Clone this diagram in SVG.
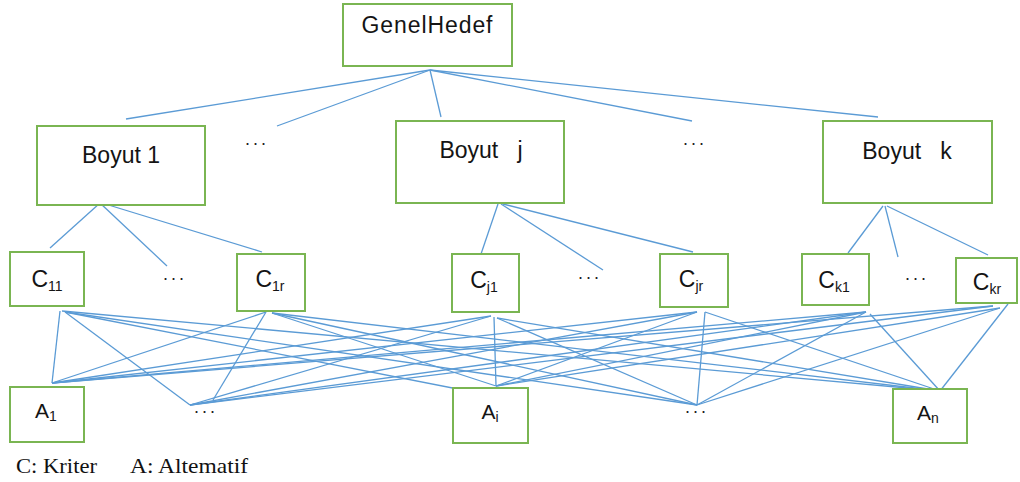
<svg xmlns="http://www.w3.org/2000/svg" width="1020" height="482" viewBox="0 0 1020 482">
<style>
.box{fill:#ffffff;stroke:#7ab552;stroke-width:2}
.lbl{font-family:"Liberation Sans",Arial,sans-serif;fill:#141414}
.big{font-size:23px}
.cl{font-size:23px}
.sub{font-size:14px}
.dots{font-family:"Liberation Sans",Arial,sans-serif;font-size:18px;fill:#1e1e1e;letter-spacing:3px}
.leg{font-family:"Liberation Serif","Times New Roman",serif;font-size:22px;fill:#111}
#connectors line{stroke:#5b9bd5;stroke-width:1.3;fill:none}
</style>
<rect width="1020" height="482" fill="#ffffff"/>
<g id="connectors">
<line x1="430" y1="70" x2="126" y2="119"/>
<line x1="430" y1="70" x2="277" y2="126"/>
<line x1="430" y1="70" x2="441" y2="117"/>
<line x1="430" y1="70" x2="692" y2="121"/>
<line x1="430" y1="70" x2="878" y2="117"/>
<line x1="100" y1="203" x2="50" y2="248"/>
<line x1="100" y1="203" x2="167" y2="266"/>
<line x1="102" y1="203" x2="262" y2="252"/>
<line x1="498" y1="204" x2="481" y2="254"/>
<line x1="501" y1="204" x2="603" y2="270"/>
<line x1="503" y1="204" x2="693" y2="252"/>
<line x1="883" y1="206" x2="848" y2="253"/>
<line x1="885" y1="206" x2="898" y2="257"/>
<line x1="887" y1="206" x2="988" y2="255"/>
<line x1="60" y1="311" x2="52" y2="383"/>
<line x1="65" y1="312" x2="190" y2="405"/>
<line x1="65" y1="312" x2="473" y2="392"/>
<line x1="65" y1="312" x2="697" y2="405"/>
<line x1="62" y1="311" x2="940" y2="391"/>
<line x1="266" y1="312" x2="52" y2="383"/>
<line x1="266" y1="312" x2="213" y2="400"/>
<line x1="272" y1="313" x2="496" y2="386"/>
<line x1="272" y1="313" x2="697" y2="405"/>
<line x1="272" y1="313" x2="940" y2="391"/>
<line x1="491" y1="316" x2="52" y2="383"/>
<line x1="491" y1="316" x2="190" y2="405"/>
<line x1="494" y1="317" x2="496" y2="386"/>
<line x1="497" y1="318" x2="697" y2="405"/>
<line x1="497" y1="318" x2="940" y2="391"/>
<line x1="697" y1="312" x2="52" y2="383"/>
<line x1="697" y1="312" x2="190" y2="405"/>
<line x1="697" y1="312" x2="496" y2="386"/>
<line x1="705" y1="312" x2="697" y2="405"/>
<line x1="705" y1="312" x2="940" y2="391"/>
<line x1="866" y1="312" x2="52" y2="383"/>
<line x1="866" y1="312" x2="190" y2="405"/>
<line x1="866" y1="312" x2="496" y2="386"/>
<line x1="866" y1="312" x2="697" y2="405"/>
<line x1="870" y1="314" x2="940" y2="391"/>
<line x1="993" y1="306" x2="52" y2="383"/>
<line x1="993" y1="306" x2="190" y2="405"/>
<line x1="1000" y1="308" x2="496" y2="386"/>
<line x1="1000" y1="308" x2="697" y2="405"/>
<line x1="1008" y1="304" x2="940" y2="391"/>
</g>
<g id="goal">
<rect class="box" x="343" y="4" width="169" height="62"/>
<text class="lbl big" x="427" y="33" text-anchor="middle" textLength="131" lengthAdjust="spacing">GenelHedef</text>
</g>
<g id="boyut1">
<rect class="box" x="37" y="126" width="168" height="79"/>
<text class="lbl big" x="121" y="163" text-anchor="middle">Boyut 1</text>
</g>
<g id="boyutj">
<rect class="box" x="396" y="121" width="168" height="82"/>
<text class="lbl big" x="481" y="158" text-anchor="middle" xml:space="preserve">Boyut   j</text>
</g>
<g id="boyutk">
<rect class="box" x="823" y="121" width="169" height="82"/>
<text class="lbl big" x="907" y="159" text-anchor="middle" xml:space="preserve">Boyut   k</text>
</g>
<g id="dots-top">
<text class="dots" x="245" y="145">...</text>
<text class="dots" x="683" y="145">...</text>
</g>
<g id="c11">
<rect class="box" x="10" y="252" width="74" height="54"/>
<text class="lbl cl" x="47" y="287" text-anchor="middle">C<tspan class="sub" dy="4">11</tspan></text>
</g>
<g id="c1r">
<rect class="box" x="237" y="254" width="68" height="57"/>
<text class="lbl cl" x="270" y="287" text-anchor="middle">C<tspan class="sub" dy="4">1r</tspan></text>
</g>
<g id="cj1">
<rect class="box" x="452" y="254" width="67" height="58"/>
<text class="lbl cl" x="484" y="288" text-anchor="middle">C<tspan class="sub" dy="4">j1</tspan></text>
</g>
<g id="cjr">
<rect class="box" x="660" y="254" width="68" height="53"/>
<text class="lbl cl" x="691" y="287" text-anchor="middle">C<tspan class="sub" dy="4">jr</tspan></text>
</g>
<g id="ck1">
<rect class="box" x="802" y="254" width="67" height="51"/>
<text class="lbl cl" x="834" y="288" text-anchor="middle">C<tspan class="sub" dy="4">k1</tspan></text>
</g>
<g id="ckr">
<rect class="box" x="956" y="258" width="61" height="45"/>
<text class="lbl cl" x="987" y="290" text-anchor="middle">C<tspan class="sub" dy="4">kr</tspan></text>
</g>
<g id="dots-mid">
<text class="dots" x="163" y="280">...</text>
<text class="dots" x="578" y="279">...</text>
<text class="dots" x="905" y="280">...</text>
</g>
<g id="a1">
<rect class="box" x="10" y="387" width="74" height="55"/>
<text class="lbl" x="46" y="418" text-anchor="middle" font-size="21">A<tspan class="sub" dy="3">1</tspan></text>
</g>
<g id="ai">
<rect class="box" x="453" y="388" width="75" height="55"/>
<text class="lbl" x="490" y="419" text-anchor="middle" font-size="21">A<tspan class="sub" dy="3">i</tspan></text>
</g>
<g id="an">
<rect class="box" x="893" y="389" width="74" height="54"/>
<text class="lbl" x="928" y="420" text-anchor="middle" font-size="21">A<tspan class="sub" dy="3">n</tspan></text>
</g>
<g id="dots-bottom">
<text class="dots" x="194" y="413">...</text>
<text class="dots" x="685" y="413">...</text>
</g>
<g id="legend">
<text class="leg" x="16" y="473" textLength="81" lengthAdjust="spacingAndGlyphs">C: Kriter</text>
<text class="leg" x="130" y="473" textLength="118" lengthAdjust="spacingAndGlyphs">A: Altematif</text>
</g>
</svg>
